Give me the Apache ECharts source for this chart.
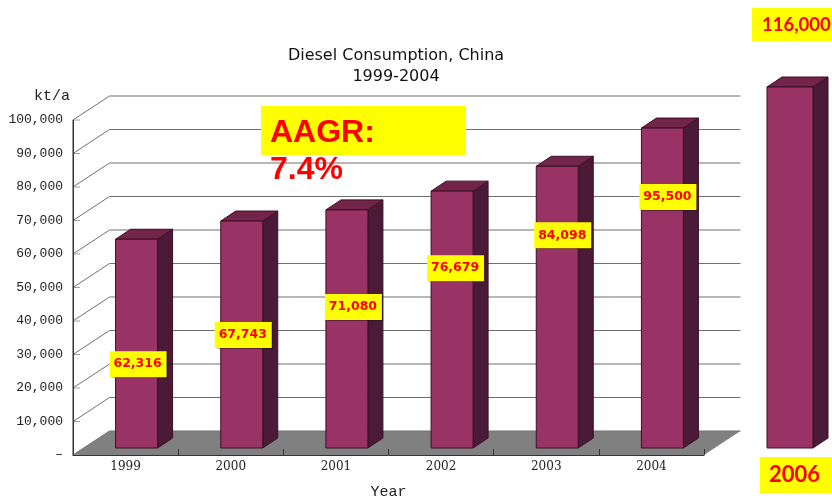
<!DOCTYPE html>
<html>
<head>
<meta charset="utf-8">
<title>Diesel Consumption, China</title>
<style>
  html, body { margin: 0; padding: 0; background: #fff; }
  #chart { width: 832px; height: 497px; }
</style>
<script src="https://cdn.jsdelivr.net/npm/echarts@6/dist/echarts.min.js"></script>
</head>
<body>
<div id="chart"></div>
<script>
const years = ['1999', '2000', '2001', '2002', '2003', '2004'];
const consumption = [62316, 67743, 71080, 76679, 84098, 95500];
const consumptionLabels = ['62,316', '67,743', '71,080', '76,679', '84,098', '95,500'];
const forecastYear = ['2006'];
const forecast = [116000];
const forecastLabel = '116,000';
const wallTicks = [0, 10000, 20000, 30000, 40000, 50000, 60000, 70000, 80000, 90000, 100000];
const titleLines = ['Diesel Consumption, China', '1999-2004'];
const aagrLines = ['AAGR:', '7.4%'];

// offset of each yellow label's centre from its bar top, px
const labelDrop = [125, 114, 97, 77, 69, 69];
const labelShift = [1, 1, 6, 3, 5, 5];

const DEPTH_X = 36.5, DEPTH_Y = 24;
const BAR_W = 42, BAR_DX = 15, BAR_DY = 10;
const BAR_SHIFT_X = 11, BAR_SHIFT_Y = -7;
const FONT_MONO = '"Liberation Mono", monospace';

// front, top and side faces of one 3D column
function barFaces(x0, x1, top, bottom) {
  const edge = { stroke: '#3a0f28', lineWidth: 1 };
  return [
    { type: 'polygon', shape: { points: [[x1, top], [x1 + BAR_DX, top - BAR_DY], [x1 + BAR_DX, bottom - BAR_DY], [x1, bottom]] },
      style: Object.assign({ fill: '#4a1a36' }, edge) },
    { type: 'polygon', shape: { points: [[x0, top], [x0 + BAR_DX, top - BAR_DY], [x1 + BAR_DX, top - BAR_DY], [x1, top]] },
      style: Object.assign({ fill: '#732449' }, edge) },
    { type: 'rect', shape: { x: x0, y: top, width: x1 - x0, height: bottom - top },
      style: Object.assign({ fill: '#993366' }, edge) }
  ];
}

let myChart = echarts.init(document.getElementById('chart'));

let option = {
  animation: false,
  backgroundColor: '#fff',
  grid: [
    { left: 73, top: 120, width: 631, height: 335, outerBoundsMode: 'none' },
    { left: 767, top: 87, width: 46, height: 361, outerBoundsMode: 'none' }
  ],
  xAxis: [
    {
      type: 'category',
      gridIndex: 0,
      z: 10,
      data: years,
      name: 'Year',
      nameLocation: 'middle',
      nameGap: 30,
      nameTextStyle: { color: '#222', fontFamily: FONT_MONO, fontSize: 15 },
      axisLine: { lineStyle: { color: '#333', width: 1 } },
      axisTick: { show: true, inside: true, length: 6, lineStyle: { color: '#333' } },
      axisLabel: { color: '#222', fontFamily: '"DejaVu Serif", serif', fontSize: 12, margin: 6 }
    },
    { type: 'category', gridIndex: 1, data: forecastYear, show: false }
  ],
  yAxis: [
    {
      type: 'value',
      gridIndex: 0,
      z: 10,
      min: 0,
      max: 100000,
      interval: 10000,
      axisLine: { show: true, lineStyle: { color: '#333', width: 1 } },
      axisTick: { show: false },
      splitLine: { show: false },
      axisLabel: {
        color: '#222',
        fontFamily: FONT_MONO,
        fontSize: 13,
        margin: 10,
        formatter: v => (v === 0 ? '–' : v.toLocaleString('en-US'))
      }
    },
    { type: 'value', gridIndex: 1, min: 0, max: 116000, show: false, splitLine: { show: false } }
  ],
  series: [
    {
      // grey floor and the front edge of the side wall
      type: 'custom',
      xAxisIndex: 0,
      yAxisIndex: 0,
      clip: false,
      silent: true,
      z: 1,
      data: [0],
      renderItem: (params, api) => {
        const c = params.coordSys;
        const y = api.coord([0, 0])[1];
        return {
          type: 'group',
          children: [
            { type: 'polygon',
              shape: { points: [[c.x, y], [c.x + DEPTH_X, y - DEPTH_Y], [c.x + c.width + DEPTH_X, y - DEPTH_Y], [c.x + c.width, y]] },
              style: { fill: '#808080' } },
            { type: 'line', shape: { x1: c.x, y1: c.y, x2: c.x, y2: y }, style: { stroke: '#333', lineWidth: 1 } }
          ]
        };
      }
    },
    {
      // side and back wall lines
      type: 'custom',
      xAxisIndex: 0,
      yAxisIndex: 0,
      clip: false,
      silent: true,
      z: 2,
      data: wallTicks.map(v => [0, v]),
      encode: { y: 1 },
      renderItem: (params, api) => {
        const c = params.coordSys;
        const y = api.coord([0, api.value(1)])[1];
        return {
          type: 'group',
          children: [
            { type: 'polyline',
              shape: { points: [[c.x, y], [c.x + DEPTH_X, y - DEPTH_Y], [c.x + c.width + DEPTH_X, y - DEPTH_Y]] },
              style: { stroke: '#707070', lineWidth: 1, fill: null } },
            { type: 'line', shape: { x1: c.x, y1: y, x2: c.x + 7, y2: y }, style: { stroke: '#a0a0a0', lineWidth: 1 } }
          ]
        };
      }
    },
    {
      type: 'custom',
      name: 'Diesel consumption',
      xAxisIndex: 0,
      yAxisIndex: 0,
      clip: false,
      silent: true,
      z: 3,
      data: consumption.map((v, i) => [i, v]),
      encode: { x: 0, y: 1 },
      renderItem: (params, api) => {
        const p = api.coord([api.value(0), api.value(1)]);
        const b = api.coord([api.value(0), 0]);
        const x0 = p[0] + BAR_SHIFT_X - BAR_W / 2;
        return {
          type: 'group',
          children: barFaces(x0, x0 + BAR_W, p[1] + BAR_SHIFT_Y, b[1] + BAR_SHIFT_Y)
        };
      }
    },
    {
      type: 'custom',
      name: 'Forecast',
      xAxisIndex: 1,
      yAxisIndex: 1,
      clip: false,
      silent: true,
      z: 3,
      data: forecast.map((v, i) => [i, v]),
      encode: { x: 0, y: 1 },
      renderItem: (params, api) => {
        const p = api.coord([api.value(0), api.value(1)]);
        const b = api.coord([api.value(0), 0]);
        const w = api.size([1, 0])[0];
        return {
          type: 'group',
          children: barFaces(p[0] - w / 2, p[0] + w / 2, p[1], b[1])
        };
      }
    },
    {
      // yellow value labels
      type: 'custom',
      xAxisIndex: 0,
      yAxisIndex: 0,
      clip: false,
      silent: true,
      z: 5,
      data: consumption.map((v, i) => [i, v]),
      encode: { x: 0, y: 1 },
      renderItem: (params, api) => {
        const i = api.value(0);
        const p = api.coord([i, api.value(1)]);
        const cx = p[0] + BAR_SHIFT_X + labelShift[i];
        const cy = p[1] + BAR_SHIFT_Y + labelDrop[i];
        return {
          type: 'group',
          children: [
            { type: 'rect', shape: { x: cx - 28, y: cy - 13, width: 57, height: 26 },
              style: { fill: '#ffff00', shadowColor: 'rgba(0,0,0,0.35)', shadowBlur: 1, shadowOffsetX: 1, shadowOffsetY: 1 } },
            { type: 'text',
              style: { x: cx, y: cy, text: consumptionLabels[i], fill: '#ff0000', align: 'center', verticalAlign: 'middle',
                font: 'bold 12.5px "DejaVu Sans", sans-serif' } }
          ]
        };
      }
    }
  ],
  graphic: [
    { type: 'text', left: 34, top: 89, style: { text: 'kt/a', fill: '#222', font: '15px ' + FONT_MONO } },
    { type: 'text', x: 396, y: 56, style: { text: titleLines[0], fill: '#111', align: 'center', verticalAlign: 'middle', font: '16px "DejaVu Sans", sans-serif' } },
    { type: 'text', x: 396, y: 77, style: { text: titleLines[1], fill: '#111', align: 'center', verticalAlign: 'middle', font: '16px "DejaVu Sans", sans-serif' } },
    { type: 'rect', shape: { x: 261, y: 106, width: 205, height: 49 }, style: { fill: '#ffff00' }, z: 10 },
    { type: 'text', x: 270, y: 133, z: 11, style: { text: aagrLines[0], fill: '#ff0000', verticalAlign: 'middle', font: 'bold 32px "Liberation Sans", sans-serif' } },
    { type: 'text', x: 270, y: 170, z: 11, style: { text: aagrLines[1], fill: '#ff0000', verticalAlign: 'middle', font: 'bold 32px "Liberation Sans", sans-serif' } },
    { type: 'rect', shape: { x: 752, y: 8, width: 80, height: 33 }, style: { fill: '#ffff00' }, z: 10 },
    { type: 'text', x: 762, y: 25, z: 11, style: { text: forecastLabel, fill: '#ff0000', verticalAlign: 'middle', font: 'bold 18.5px Lato, sans-serif' } },
    { type: 'rect', shape: { x: 760, y: 457, width: 72, height: 36 }, style: { fill: '#ffff00' }, z: 10 },
    { type: 'text', x: 769, y: 475, z: 11, style: { text: forecastYear[0], fill: '#ff0000', verticalAlign: 'middle', font: 'bold 22px Lato, sans-serif' } }
  ]
};

myChart.setOption(option);
</script>
</body>
</html>
